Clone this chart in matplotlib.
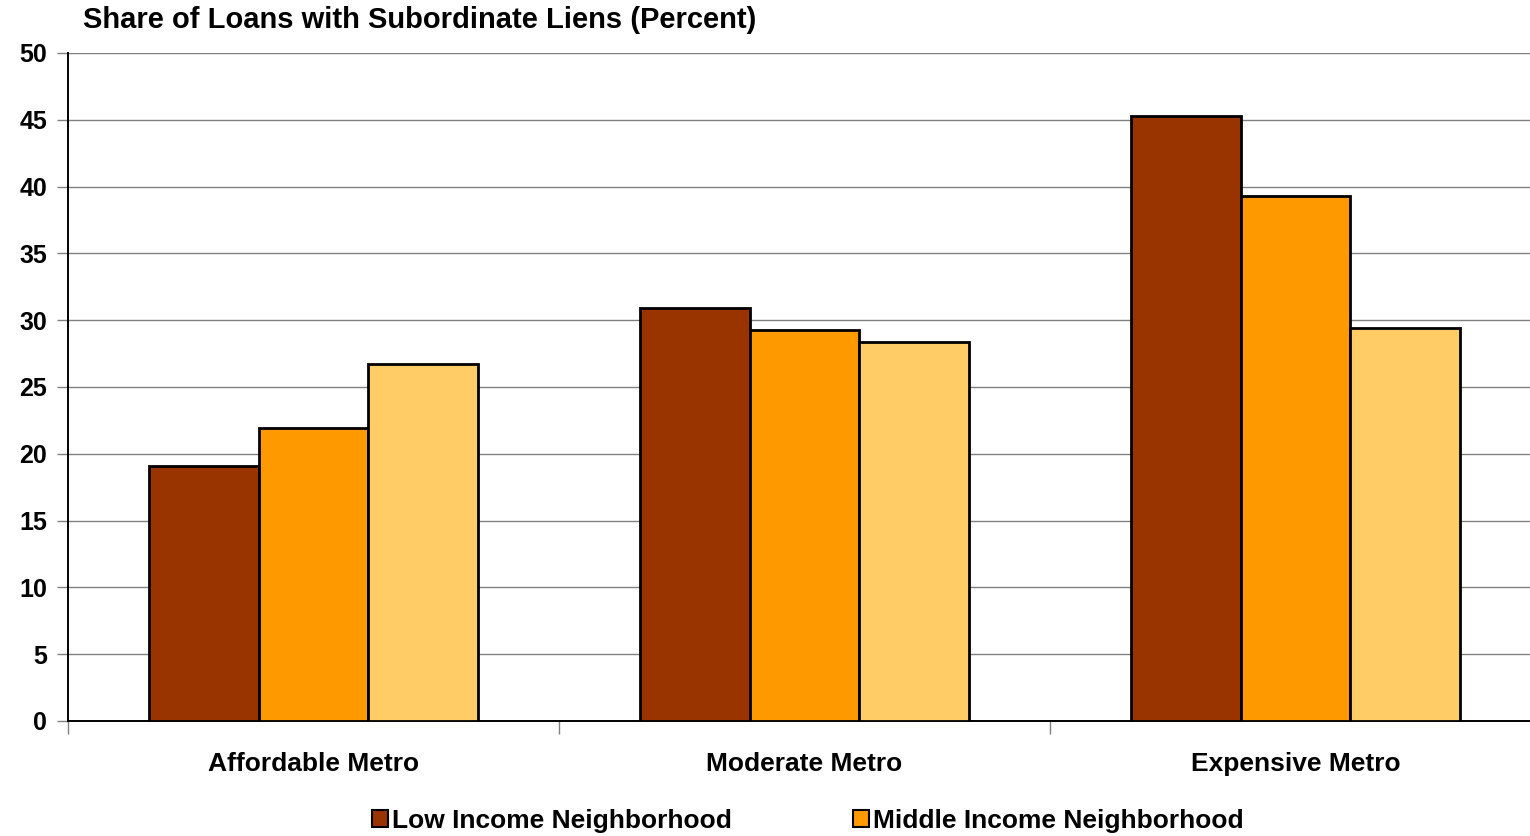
import numpy as np
import matplotlib.pyplot as plt
from matplotlib.patches import Patch

# =========================
# 数据
categories = ["Affordable Metro", "Moderate Metro", "Expensive Metro"]
low_income = [19.1, 30.9, 45.3]
middle_income = [21.9, 29.3, 39.3]
high_income = [26.7, 28.4, 29.4]
y_ticks = [0, 5, 10, 15, 20, 25, 30, 35, 40, 45, 50]

COLORS = ["#993300", "#FF9900", "#FFCC66"]

plt.rcParams["font.family"] = ["Liberation Sans", "DejaVu Sans"]
plt.rcParams["font.weight"] = "bold"

fig = plt.figure(figsize=(15.3, 8.36), dpi=100)
ax = fig.add_axes([68 / 1530, 115 / 836, 1473 / 1530, 668 / 836])

x = np.arange(len(categories))
w = 0.223
series = [low_income, middle_income, high_income]
for i, vals in enumerate(series):
    ax.bar(x + (i - 1) * w, vals, width=w, color=COLORS[i],
           edgecolor="black", linewidth=2, zorder=3)

ax.set_xlim(-0.5, 2.5)
ax.set_ylim(0, 50)
ax.set_yticks(y_ticks)
ax.set_yticklabels([str(t) for t in y_ticks], fontsize=18, fontweight="bold")
ax.yaxis.grid(True, color="#808080", linewidth=1, zorder=0)

# 类别标签
ax.set_xticks(x)
ax.set_xticklabels(categories, fontsize=19, fontweight="bold")
ax.tick_params(axis="x", length=0, pad=22)
ax.set_xticks([-0.5, 0.5, 1.5, 2.5], minor=True)
ax.tick_params(axis="x", which="minor", length=9, color="#808080", width=1)
ax.tick_params(axis="y", length=8, width=1, color="#808080", pad=7)

for s in ["top", "right"]:
    ax.spines[s].set_visible(False)
ax.spines["left"].set_linewidth(1.4)
ax.spines["bottom"].set_linewidth(1.4)

fig.text(83 / 1530, 1 - 20 / 836, "Share of Loans with Subordinate Liens (Percent)",
         fontsize=21, fontweight="bold", ha="left", va="center")

handles = [Patch(facecolor=COLORS[0], edgecolor="black", linewidth=1.5),
           Patch(facecolor=COLORS[1], edgecolor="black", linewidth=1.5)]
fig.legend(handles, ["Low Income Neighborhood", "Middle Income Neighborhood"],
           loc="center", bbox_to_anchor=(808 / 1530, 1 - 821 / 836), ncol=2,
           frameon=False, fontsize=19, handlelength=0.6, handleheight=0.6,
           handletextpad=0.15, columnspacing=4.6, borderpad=0)

fig.savefig("out.png", dpi=100)
